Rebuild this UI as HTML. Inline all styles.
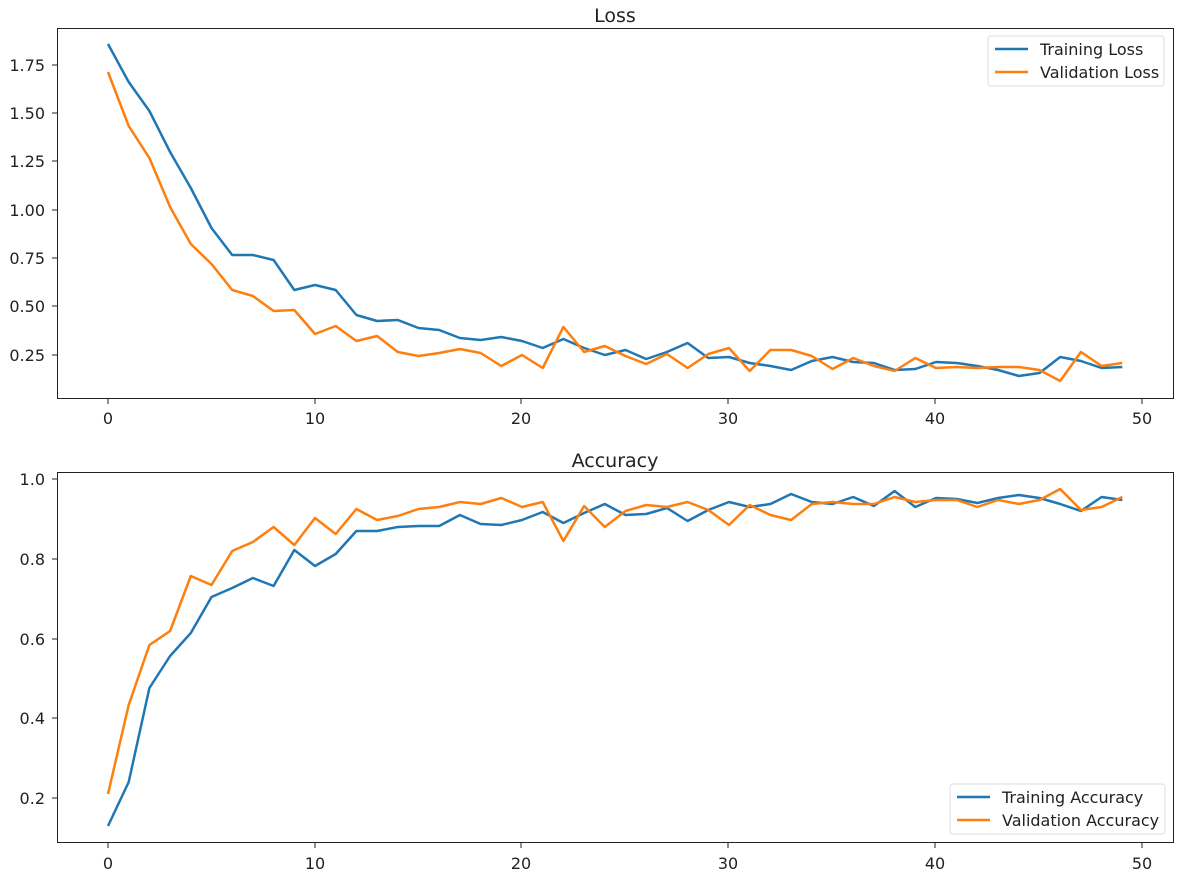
<!DOCTYPE html>
<html><head><meta charset="utf-8"><style>
body{margin:0;background:#fff;}
svg{display:block;font-family:"DejaVu Sans","Liberation Sans",sans-serif;}
</style></head><body>
<svg id="s" width="1180" height="880" xmlns="http://www.w3.org/2000/svg">
<rect width="1180" height="880" fill="#fff"/>
<!-- top axes -->
<rect x="57.5" y="28.5" width="1116" height="370" fill="none" stroke="#222" stroke-width="1"/>
<text x="615" y="22" font-size="19" text-anchor="middle" fill="#222">Loss</text>
<g font-size="16" fill="#222" text-anchor="end">
<text x="45" y="71">1.75</text><text x="45" y="119">1.50</text><text x="45" y="167">1.25</text>
<text x="45" y="216">1.00</text><text x="45" y="264">0.75</text><text x="45" y="312">0.50</text><text x="45" y="361">0.25</text>
</g>
<g stroke="#222"><line x1="52" x2="57" y1="65" y2="65"/><line x1="52" x2="57" y1="113" y2="113"/><line x1="52" x2="57" y1="161" y2="161"/><line x1="52" x2="57" y1="210" y2="210"/><line x1="52" x2="57" y1="258" y2="258"/><line x1="52" x2="57" y1="306" y2="306"/><line x1="52" x2="57" y1="355" y2="355"/></g>
<g font-size="16" fill="#222" text-anchor="middle">
<text x="108" y="424">0</text><text x="315" y="424">10</text><text x="521" y="424">20</text><text x="728" y="424">30</text><text x="935" y="424">40</text><text x="1142" y="424">50</text>
</g>
<g stroke="#222"><line x1="108" x2="108" y1="399" y2="404"/><line x1="315" x2="315" y1="399" y2="404"/><line x1="521" x2="521" y1="399" y2="404"/><line x1="728" x2="728" y1="399" y2="404"/><line x1="935" x2="935" y1="399" y2="404"/><line x1="1142" x2="1142" y1="399" y2="404"/></g>
<polyline id="tl" fill="none" stroke="#1f77b4" stroke-width="2.5" stroke-linejoin="round"/>
<polyline id="vl" fill="none" stroke="#ff7f0e" stroke-width="2.5" stroke-linejoin="round"/>
<rect x="988" y="36" width="176" height="50" rx="3" fill="#fff" fill-opacity="0.8" stroke="#ddd"/>
<line x1="995" x2="1028" y1="49" y2="49" stroke="#1f77b4" stroke-width="2.5"/>
<line x1="995" x2="1028" y1="72" y2="72" stroke="#ff7f0e" stroke-width="2.5"/>
<text x="1040" y="55" font-size="16" fill="#222">Training Loss</text>
<text x="1040" y="78" font-size="16" fill="#222">Validation Loss</text>

<!-- bottom axes -->
<rect x="57.5" y="472.5" width="1116" height="370" fill="none" stroke="#222" stroke-width="1"/>
<text x="615" y="467" font-size="19" text-anchor="middle" fill="#222">Accuracy</text>
<g font-size="16" fill="#222" text-anchor="end">
<text x="45" y="485">1.0</text><text x="45" y="565">0.8</text><text x="45" y="645">0.6</text><text x="45" y="724">0.4</text><text x="45" y="804">0.2</text>
</g>
<g stroke="#222"><line x1="52" x2="57" y1="479" y2="479"/><line x1="52" x2="57" y1="559" y2="559"/><line x1="52" x2="57" y1="639" y2="639"/><line x1="52" x2="57" y1="718" y2="718"/><line x1="52" x2="57" y1="798" y2="798"/></g>
<g font-size="16" fill="#222" text-anchor="middle">
<text x="108" y="869">0</text><text x="315" y="869">10</text><text x="521" y="869">20</text><text x="728" y="869">30</text><text x="935" y="869">40</text><text x="1142" y="869">50</text>
</g>
<g stroke="#222"><line x1="108" x2="108" y1="843" y2="848"/><line x1="315" x2="315" y1="843" y2="848"/><line x1="521" x2="521" y1="843" y2="848"/><line x1="728" x2="728" y1="843" y2="848"/><line x1="935" x2="935" y1="843" y2="848"/><line x1="1142" x2="1142" y1="843" y2="848"/></g>
<polyline id="ta" fill="none" stroke="#1f77b4" stroke-width="2.5" stroke-linejoin="round"/>
<polyline id="va" fill="none" stroke="#ff7f0e" stroke-width="2.5" stroke-linejoin="round"/>
<rect x="950" y="784" width="215" height="50" rx="3" fill="#fff" fill-opacity="0.8" stroke="#ddd"/>
<line x1="957" x2="990" y1="797" y2="797" stroke="#1f77b4" stroke-width="2.5"/>
<line x1="957" x2="990" y1="820" y2="820" stroke="#ff7f0e" stroke-width="2.5"/>
<text x="1002" y="803" font-size="16" fill="#222">Training Accuracy</text>
<text x="1002" y="826" font-size="16" fill="#222">Validation Accuracy</text>
</svg>
<script>
var d={
tl:[44,82,111,152,188,228,255,255,260,290,285,290,315,321,320,328,330,338,340,337,341,348,339,348,355,350,359,352,343,358,357,363,366,370,361,357,362,363,370,369,362,363,366,370,376,373,357,361,368,367],
vl:[72,126,158,207,244,264,290,296,311,310,334,326,341,336,352,356,353,349,353,366,355,368,327,352,346,356,364,354,368,354,348,371,350,350,356,369,358,366,371,358,368,367,368,367,367,370,381,352,366,363],
ta:[826,782,688,656,633,597,588,578,586,550,566,554,531,531,527,526,526,515,524,525,520,512,523,513,504,515,514,508,521,510,502,507,504,494,502,504,497,506,491,507,498,499,503,498,495,498,504,511,497,500],
va:[794,705,645,631,576,585,551,542,527,545,518,534,509,520,516,509,507,502,504,498,507,502,541,506,527,511,505,507,502,510,525,505,515,520,504,502,504,504,497,502,500,500,507,500,504,500,489,510,507,497]};
for(var k in d){document.getElementById(k).setAttribute('points',d[k].map(function(y,i){return (108+i*20.7).toFixed(1)+','+y}).join(' '));}
</script>
</body></html>
